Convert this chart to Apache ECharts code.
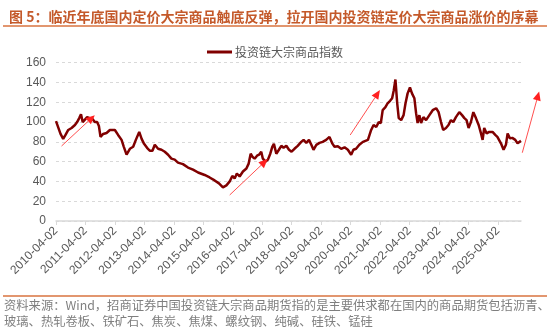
<!DOCTYPE html>
<html><head><meta charset="utf-8">
<script src="https://cdn.jsdelivr.net/npm/echarts@6/dist/echarts.min.js"></script>
<style>html,body{margin:0;padding:0;background:#fff}#c{width:550px;height:331px}</style>
</head><body><div id="c"></div>
<script>
const titleText = '图 5：临近年底国内定价大宗商品触底反弹，拉开国内投资链定价大宗商品涨价的序幕';
const seriesName = '投资链大宗商品指数';
const footLine1 = '资料来源：Wind，招商证券中国投资链大宗商品期货指的是主要供求都在国内的商品期货包括沥青、';
const footLine2 = '玻璃、热轧卷板、铁矿石、焦炭、焦煤、螺纹钢、纯碱、硅铁、锰硅';

const tickLabels = ['2010-04-02','2011-04-02','2012-04-02','2013-04-02','2014-04-02','2015-04-02','2016-04-02','2017-04-02','2018-04-02','2019-04-02','2020-04-02','2021-04-02','2022-04-02','2023-04-02','2024-04-02','2025-04-02'];

const dates = ['2010-04-02','2010-05-28','2010-06-30','2010-07-29','2010-09-01','2010-09-22','2010-10-12','2010-11-04','2010-11-23','2010-12-20',
'2011-01-15','2011-02-06','2011-02-27','2011-03-16','2011-04-23','2011-05-26','2011-06-29','2011-07-27','2011-08-25','2011-09-16','2011-10-06','2011-11-08','2011-12-20',
'2012-01-30','2012-04-01','2012-05-11','2012-06-23','2012-07-21','2012-08-24','2012-10-04','2012-11-14','2012-12-17',
'2013-01-28','2013-02-27','2013-03-29','2013-05-05','2013-06-08','2013-07-11','2013-08-09','2013-09-19','2013-10-31','2013-12-11',
'2014-01-21','2014-03-03','2014-04-13','2014-05-23','2014-07-24','2014-09-25','2014-11-26',
'2015-01-28','2015-04-19','2015-06-20','2015-08-21','2015-10-14','2015-12-02',
'2016-01-14','2016-02-24','2016-03-27','2016-04-25','2016-05-23','2016-06-26','2016-08-06','2016-09-18','2016-10-16','2016-11-10','2016-12-01','2016-12-29',
'2017-01-28','2017-02-22','2017-03-21','2017-04-10','2017-05-14','2017-06-12','2017-07-11','2017-08-05','2017-08-25','2017-09-24','2017-10-26','2017-11-25','2017-12-23',
'2018-01-26','2018-02-28','2018-04-01','2018-05-07','2018-06-16','2018-07-30','2018-08-28','2018-10-01','2018-11-03','2018-12-02','2018-12-29',
'2019-02-02','2019-03-13','2019-04-22','2019-06-04','2019-07-15','2019-08-18','2019-09-16','2019-10-26','2019-12-07',
'2020-01-18','2020-02-28','2020-04-09','2020-05-07','2020-06-09','2020-07-19','2020-09-02','2020-09-22','2020-11-03','2020-12-13',
'2021-01-12','2021-02-14','2021-03-17','2021-04-12','2021-05-05','2021-06-08','2021-07-05','2021-08-05','2021-08-30','2021-09-19','2021-10-10','2021-11-01','2021-11-20','2021-12-20',
'2022-01-19','2022-02-12','2022-03-10','2022-04-08','2022-05-03','2022-06-02','2022-06-23','2022-07-12','2022-08-03','2022-08-24','2022-09-22','2022-10-25','2022-12-05',
'2023-01-15','2023-02-27','2023-03-29','2023-04-28','2023-05-25','2023-06-29','2023-07-30','2023-08-29','2023-09-27','2023-10-30','2023-12-11',
'2024-01-14','2024-02-12','2024-03-10','2024-04-04','2024-05-03','2024-06-02','2024-07-04','2024-08-07','2024-09-05','2024-09-25','2024-10-15','2024-11-14','2024-12-16',
'2025-01-26','2025-03-01','2025-03-27','2025-05-10','2025-06-12','2025-07-11','2025-08-01','2025-08-30','2025-09-28','2025-11-04','2025-12-02','2025-12-24','2026-01-14'];

const values = [101,88,83,87,92,90,94,92,97,100,
104,108,100,101,105,104,103,100,100,96,85,88,89,
92,92,87,82,75,67,73,75,82,
90,83,78,74,71,71,77,73,72,70,
67,63,62,59,57.5,54,52,
49,46.5,44,41,38,34,
36,40,45.5,43,48,45,50,53,58,68,65,63,
66,67,70,63,60,62,68,75,78,68,72,76,74,
76,72,70,73,76,80,82,79,82,77,72,
77,79,80,82,85,78.5,75,75.5,73,
74.5,72,67,72,73,77,80,79,82,92,
97,95,100,99,112,115,119,121.5,124,132,143,119,104,102,
107,119,129,135,129,124,109,99,107,99,105,102,107,
112,114,110,100,92,94,97,102,100,105,110,
107,104,102,94,100,110,104,97,88.5,82,94,88.5,90,
90,87,85,78.5,72,77,88.5,83.5,84,82,78.5,78,81];

// annotation arrows: [date, value]
const arrowStarts = [['2010-06-10',75.8],['2016-02-24',26.3],['2020-03-28',86.9],['2026-01-30',69]];
const arrowEnds   = [['2011-07-27',107],['2017-06-09',62.6],['2021-04-01',132.3],['2026-08-27',131]];

const xMin = '2010-04-02', xMax = '2026-01-14';
const orange = '#D9733F';
const fontCJK = '"Noto Sans CJK SC", "Noto Sans", sans-serif';
const fontNum = 'Arial, "Liberation Sans", sans-serif';

function ts(s){const a=s.split('-').map(Number);return Date.UTC(a[0],a[1]-1,a[2]);}
function fmt(v){const d=new Date(v);const p=n=>(n<10?'0':'')+n;return d.getUTCFullYear()+'-'+p(d.getUTCMonth()+1)+'-'+p(d.getUTCDate());}
const tickVals = tickLabels.map(ts);

const chart = echarts.init(document.getElementById('c'), null, {renderer:'canvas'});
chart.setOption({
  animation:false,
  backgroundColor:'#fff',
  title:{text:titleText, left:4, top:5, textStyle:{color:'#C4592A', fontSize:14, fontWeight:'bold', fontFamily:fontCJK}},
  legend:{data:[{name:seriesName, icon:'rect'}], top:41, left:'center', itemWidth:25, itemHeight:3, itemGap:6,
    textStyle:{color:'#595959', fontSize:12, fontFamily:fontCJK, padding:[0,0,0,-2]}},
  grid:{left:56, right:29, top:62.7, bottom:110, containLabel:false},
  xAxis:{type:'value', min:ts(xMin), max:ts(xMax), scale:true,
    axisLine:{lineStyle:{color:'#D9D9D9', width:1.5}},
    axisTick:{show:true, length:4, lineStyle:{color:'#D9D9D9'}, customValues: tickVals},
    axisLabel:{rotate:45, margin:8, color:'#595959', fontSize:12, fontFamily:fontNum,
      customValues: tickVals, showMinLabel:true, showMaxLabel:true, hideOverlap:false, formatter:fmt},
    splitLine:{show:false}},
  yAxis:{type:'value', min:0, max:160, interval:20,
    axisLine:{show:false}, axisTick:{show:false},
    axisLabel:{color:'#595959', fontSize:12, margin:10, fontFamily:fontNum},
    splitLine:{lineStyle:{color:'#D9D9D9', type:[3,3], width:1}}},
  series:[{name:seriesName, type:'line', data:dates.map((d,i)=>[ts(d), values[i]]), showSymbol:false, symbol:'none',
    lineStyle:{color:'#800000', width:2.5}, itemStyle:{color:'#800000'}}]
});

const baseGraphics = [
  {type:'line', shape:{x1:3,y1:26,x2:547,y2:26}, style:{stroke:orange, lineWidth:1.5}},
  {type:'line', shape:{x1:3,y1:296,x2:547,y2:296}, style:{stroke:orange, lineWidth:1.5}},
  {type:'text', left:4, top:299, style:{text:footLine1, fill:'#7F7F7F', fontSize:12.3, fontFamily:fontCJK}},
  {type:'text', left:4, top:315, style:{text:footLine2, fill:'#7F7F7F', fontSize:12.3, fontFamily:fontCJK}}
];
const arrowGraphics = [];
for (let i=0;i<arrowStarts.length;i++){
  const p0 = chart.convertToPixel({gridIndex:0}, [ts(arrowStarts[i][0]), arrowStarts[i][1]]);
  const p1 = chart.convertToPixel({gridIndex:0}, [ts(arrowEnds[i][0]), arrowEnds[i][1]]);
  const ang = Math.atan2(p1[1]-p0[1], p1[0]-p0[0]);
  const L = 9, W = 4;
  const bx = p1[0]-L*Math.cos(ang), by = p1[1]-L*Math.sin(ang);
  const nx = -Math.sin(ang), ny = Math.cos(ang);
  arrowGraphics.push({type:'line', z:10, shape:{x1:p0[0],y1:p0[1],x2:bx,y2:by}, style:{stroke:'#FF3030', lineWidth:1, opacity:0.85}});
  arrowGraphics.push({type:'polygon', z:10, shape:{points:[[p1[0],p1[1]],[bx+nx*W,by+ny*W],[bx-nx*W,by-ny*W]]}, style:{fill:'#FF2020'}});
}
chart.setOption({graphic: baseGraphics.concat(arrowGraphics)});
</script>
</body></html>
